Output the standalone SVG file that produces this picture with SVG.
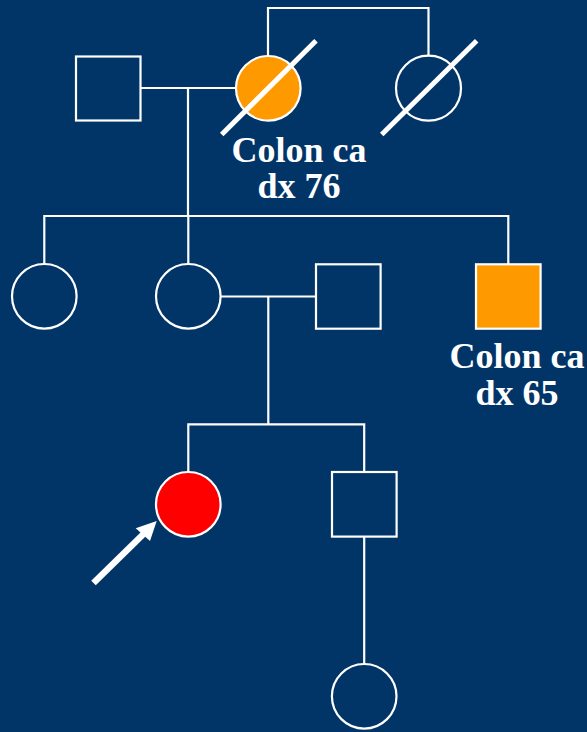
<svg xmlns="http://www.w3.org/2000/svg" width="587" height="732" viewBox="0 0 587 732">
  <style>
    .ln { fill: none; stroke: #ffffff; stroke-width: 2.2; }
    .nd { stroke: #ffffff; stroke-width: 2.2; }
    .open { fill: none; }
    .aff { fill: #ff9900; }
    .prob { fill: #ff0000; }
    .dec { stroke: #ffffff; stroke-width: 5; fill: none; }
    .lbl { font-family: "Liberation Serif", "Times New Roman", serif; font-weight: bold; font-size: 36px; fill: #ffffff; text-anchor: middle; }
  </style>
  <rect x="0" y="0" width="587" height="732" fill="#023567"/>

  <!-- connectors -->
  <g id="connectors">
    <!-- grandmother and her sister -->
    <polyline class="ln" points="268,56 268,8 428.5,8 428.5,55.5"/>
    <!-- grandparents' marriage and descent -->
    <line class="ln" x1="140" y1="88" x2="236" y2="88"/>
    <line class="ln" x1="188" y1="88" x2="188" y2="216"/>
    <!-- sibship line -->
    <polyline class="ln" points="44.3,264 44.3,216 508.3,216 508.3,264"/>
    <line class="ln" x1="188.3" y1="216" x2="188.3" y2="264"/>
    <!-- parents' marriage and descent -->
    <line class="ln" x1="220.6" y1="296.5" x2="316" y2="296.5"/>
    <line class="ln" x1="268.3" y1="296.5" x2="268.3" y2="424.3"/>
    <polyline class="ln" points="188.3,472 188.3,424.3 364.2,424.3 364.2,472"/>
    <!-- brother to his daughter -->
    <line class="ln" x1="364.2" y1="536.6" x2="364.2" y2="664.3"/>
  </g>

  <!-- generation I -->
  <g id="grandfather">
    <rect class="nd open" x="76" y="56.5" width="64.5" height="64"/>
  </g>
  <g id="grandmother">
    <circle class="nd aff" cx="268.3" cy="88.3" r="32.3"/>
    <line class="dec" x1="221.7" y1="134.5" x2="316" y2="40.7"/>
    <text class="lbl" x="299" y="162">Colon ca</text>
    <text class="lbl" x="299" y="198">dx 76</text>
  </g>
  <g id="great-aunt">
    <circle class="nd open" cx="428.5" cy="88.2" r="32.5"/>
    <line class="dec" x1="381.7" y1="134.5" x2="476.7" y2="40.7"/>
  </g>

  <!-- generation II -->
  <g id="aunt">
    <circle class="nd open" cx="44.3" cy="296.3" r="32.3"/>
  </g>
  <g id="mother">
    <circle class="nd open" cx="188.3" cy="296.3" r="32.3"/>
  </g>
  <g id="father">
    <rect class="nd open" x="316" y="264.3" width="64.6" height="64.4"/>
  </g>
  <g id="uncle">
    <rect class="nd aff" x="476" y="264.3" width="64.6" height="64.4"/>
    <text class="lbl" x="517" y="368">Colon ca</text>
    <text class="lbl" x="517" y="405">dx 65</text>
  </g>

  <!-- generation III -->
  <g id="proband">
    <circle class="nd prob" cx="188.3" cy="504.3" r="32.3"/>
    <line x1="93.5" y1="583" x2="143.5" y2="534" stroke="#ffffff" stroke-width="6.5"/>
    <polygon points="156.7,521 135.7,528.3 150,541" fill="#ffffff"/>
  </g>
  <g id="brother">
    <rect class="nd open" x="332" y="472" width="64.6" height="64.6"/>
  </g>

  <!-- generation IV -->
  <g id="niece">
    <circle class="nd open" cx="364.2" cy="696.3" r="32.3"/>
  </g>
</svg>
